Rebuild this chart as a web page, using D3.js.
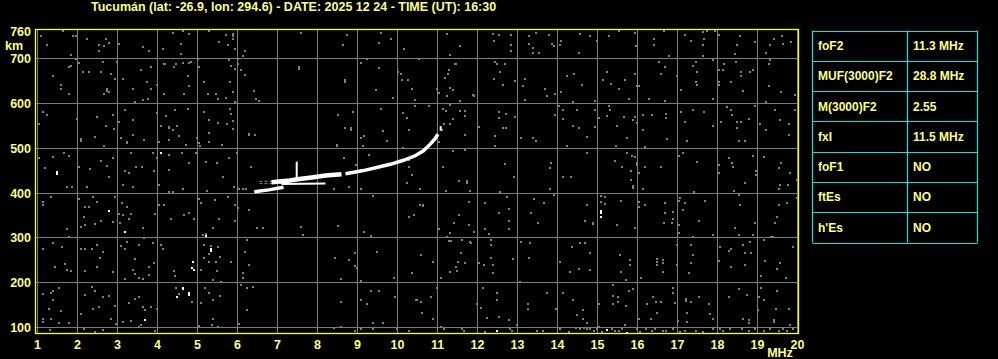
<!DOCTYPE html>
<html>
<head>
<meta charset="utf-8">
<script src="https://cdn.jsdelivr.net/npm/d3@7"></script>
<style>
  html, body { margin: 0; padding: 0; background: #000; }
  svg { display: block; }
</style>
</head>
<body>
<svg id="iono" width="998" height="359"></svg>
<script>
// ─── Data ────────────────────────────────────────────────────────────────────
const TITLE = 'Tucumán (lat: -26.9, lon: 294.6) - DATE: 2025 12 24 - TIME (UT): 16:30';

const freqTicks = d3.range(1, 21);                 // MHz
const heightTicks = [100, 200, 300, 400, 500, 600, 700];  // km
const topHeight = 760;

const paramNames  = ['foF2', 'MUF(3000)F2', 'M(3000)F2', 'fxI', 'foF1', 'ftEs', "h'Es"];
const paramValues = ['11.3 MHz', '28.8 MHz', '2.55', '11.5 MHz', 'NO', 'NO', 'NO'];

// F2 echo trace, [MHz, km]
const traceLow  = [[6.42, 403], [6.78, 407], [7.15, 413]];
const traceMid  = [[6.85, 424], [7.3, 428], [7.55, 431], [7.9, 435], [8.2, 439], [8.6, 442]];
const traceMid2 = [[7.1, 420], [8.2, 421]];
const traceHigh = [[8.7, 443], [9.15, 450], [9.48, 457], [9.82, 464], [10.15, 473], [10.44, 483],
                   [10.65, 494], [10.82, 509], [10.94, 521], [11.01, 531]];
const traceSpike = [[7.48, 431], [7.48, 470]];
const traceTop = [[11.08, 539], [11.08, 549]];
const traceGhost = [[[6.55, 426], [7.2, 426]], [[6.55, 421], [7.1, 421]]];

// bright single returns
const brightDots = [[4.08,489],[1.48,446],[1.48,442],[2.78,359],[3.18,314],[5.33,275],[5.33,271],
  [4.89,247],[4.85,232],[4.9,228],[4.63,189],[4.63,185],[4.49,169],[4.79,176],[4.79,172],
  [3.68,117],[5.21,303],[15.08,359],[15.08,355],[15.08,346],[12.48,92],[15.23,94],[15.73,88]];

// grey background noise
const noiseDots = [
  [1.63,762],[1.08,750],[1.23,731],[1.88,750],[1.96,750],[1.83,708],[2.23,744],[2.54,729],[2.53,717],
  [2.67,727],[2.78,735],[2.71,744],[3.03,732],[3.63,725],[3.79,717],[4.13,721],[4.38,757],[4.63,762],
  [4.58,732],[4.58,710],[4.79,755],[5.29,762],[5.53,736],[5.71,753],[5.75,731],[5.88,755],[5.88,744],
  [5.88,750],[5.94,721],[6.13,706],[6.19,717],[7.58,757],[8.63,729],[8.73,753],[9.53,735],[9.58,757],
  [9.83,744],[10.17,721],
  [1.79,681],[1.83,684],[1.38,661],[1.58,642],[1.58,633],[1.78,620],[1.96,699],[2.03,691],[2.13,670],
  [2.28,670],[2.58,670],[2.63,693],[2.83,665],[2.94,655],[2.73,631],[2.73,627],[2.78,625],[2.67,620],
  [2.98,693],[3.13,655],[3.38,633],[3.44,603],[3.58,674],[3.63,607],[3.73,648],[3.77,609],[3.83,680],
  [3.83,633],[3.98,642],[4.15,687],[4.19,687],[4.17,620],[4.42,680],[4.46,687],[4.63,691],[4.67,620],
  [4.75,661],[4.79,639],[4.79,690],[4.83,693],[5.0,699],[5.04,680],[5.17,648],[5.25,620],[5.46,620],
  [5.5,610],[5.71,612],[5.81,648],[5.79,697],[5.84,684],[5.88,625],[5.94,603],[6.0,699],[6.0,687],
  [5.94,676],[6.08,674],[6.18,663],[6.42,627],[6.46,610],[6.53,606],[7.54,676],[7.54,680],[8.68,648],
  [8.68,652],[9.08,691],[9.23,699],[9.46,630],[9.54,678],[9.89,612],[10.0,670],[10.08,665],[10.11,652],
  [10.25,652],[10.36,633],[10.44,607],
  [1.03,553],[1.13,580],[1.23,575],[1.98,565],[2.08,520],[2.08,517],[2.48,570],[2.44,526],[2.67,504],
  [2.71,549],[2.88,573],[2.9,543],[3.03,558],[3.08,523],[3.18,585],[3.23,511],[3.23,513],[3.38,562],
  [3.38,530],[3.67,519],[3.98,579],[4.03,513],[4.09,549],[4.21,571],[4.28,545],[4.29,547],[4.38,540],
  [4.29,519],[4.43,586],[4.48,549],[4.54,528],[4.75,588],[4.71,508],[4.98,523],[5.07,504],[5.04,511],
  [5.17,580],[5.28,562],[5.29,534],[5.29,513],[5.5,556],[5.61,508],[5.73,553],[5.81,588],[5.83,577],
  [5.88,560],[5.88,543],[6.28,532],[6.28,529],[6.43,529],[8.5,575],[8.48,505],[8.48,508],[8.69,545],
  [8.83,545],[8.83,541],[8.88,580],[9.08,523],[9.17,528],[9.13,504],[9.58,588],[9.63,538],[9.73,517],
  [10.13,579],[10.23,568],[10.28,540],[10.44,595],[10.13,500],
  [1.03,478],[1.2,455],[1.38,481],[1.67,489],[1.79,483],[2.03,459],[2.32,453],[2.58,472],[2.73,460],
  [2.78,436],[2.88,478],[3.18,448],[3.29,444],[3.33,489],[3.46,459],[3.61,459],[3.88,489],[3.92,448],
  [3.98,478],[4.29,485],[4.29,451],[4.61,490],[4.78,466],[4.96,489],[5.21,470],[5.48,468],[5.63,436],
  [5.79,478],[5.98,490],[6.33,457],[8.67,478],[8.96,463],[9.29,485],[10.28,474],[10.28,459],[10.36,440],
  [11.23,755],[11.57,727],[11.3,708],[12.38,755],[12.53,753],[12.4,740],[12.83,753],[12.83,731],
  [12.83,717],[13.28,750],[13.28,732],[13.38,724],[13.38,712],[13.47,757],[13.53,712],[13.78,753],
  [13.86,732],[13.9,727],[14.08,740],[14.07,729],[14.57,755],[14.53,712],[14.82,750],[14.98,740],
  [15.28,750],[15.53,762],[15.94,757],[15.97,727],[16.42,744],[16.42,731],[16.67,762],[16.78,705],
  [17.18,753],[17.33,740],[17.63,760],[17.73,762],[17.67,744],[17.63,731],[17.63,705],[17.94,762],
  [18.03,753],[18.48,731],[18.44,710],[18.57,750],[18.94,736],[19.3,731],[19.2,712],[19.61,750],
  [19.63,732],[19.83,736],[19.42,744],[10.53,699],
  [11.44,687],[11.47,687],[11.28,674],[11.25,665],[11.19,657],[11.3,635],[11.38,630],[10.98,633],
  [11.03,624],[11.23,616],[11.57,606],[11.88,618],[11.92,616],[12.44,693],[12.48,687],[12.68,687],
  [12.57,670],[12.42,655],[12.63,642],[12.94,650],[13.19,655],[13.13,639],[13.19,607],[13.69,633],
  [13.73,616],[13.94,620],[14.08,625],[14.23,661],[14.42,665],[14.38,603],[14.62,642],[14.93,606],
  [15.13,652],[15.23,670],[15.34,644],[15.53,633],[15.69,651],[15.78,610],[15.94,665],[15.98,639],
  [16.03,639],[16.28,609],[16.53,693],[16.69,680],[16.58,665],[16.69,605],[16.98,661],[17.08,630],
  [17.38,684],[17.47,693],[17.48,670],[17.47,648],[17.48,640],[17.88,697],[17.88,610],[18.03,675],
  [18.14,675],[18.17,687],[18.03,648],[18.03,640],[18.33,648],[18.46,693],[18.58,670],[18.58,661],
  [18.63,627],[18.82,670],[18.88,675],[19.2,603],[19.28,687],[19.3,697],[19.28,639],[19.58,625],
  [19.94,618],
  [10.78,594],[11.13,588],[11.22,582],[11.32,596],[11.38,565],[11.57,582],[11.68,582],[11.68,571],
  [11.15,553],[11.32,553],[11.12,541],[11.03,513],[11.68,530],[12.03,547],[12.53,580],[12.53,568],
  [12.72,577],[12.93,570],[12.63,544],[12.72,544],[12.44,528],[12.44,504],[13.08,523],[13.38,523],
  [13.47,517],[13.93,575],[14.03,594],[14.13,585],[14.13,565],[14.48,585],[14.38,549],[14.53,545],
  [14.73,526],[14.93,585],[14.93,547],[15.03,568],[15.23,571],[15.28,594],[15.32,585],[15.48,549],
  [15.65,570],[15.73,523],[15.88,562],[15.94,570],[15.98,556],[16.13,573],[16.13,540],[16.36,575],
  [16.7,577],[16.7,568],[16.73,520],[17.08,580],[17.19,558],[17.23,517],[17.38,585],[17.65,580],
  [17.88,549],[18.08,558],[18.23,592],[18.33,586],[18.35,575],[18.48,558],[18.58,558],[18.48,544],
  [18.78,565],[18.53,517],[18.69,517],[18.94,595],[19.07,555],[19.22,540],[19.43,585],[19.57,562],
  [19.78,553],[19.78,530],[19.93,585],[14.23,505],[16.18,502],[15.47,504],
  [11.13,459],[11.38,493],[11.68,495],[12.68,465],[12.9,436],[11.53,427],[11.73,427],[13.83,466],
  [13.82,455],[14.13,435],[14.33,435],[14.73,490],[15.43,472],[15.61,459],[15.73,490],[15.86,483],
  [15.94,481],[15.98,463],[15.98,466],[16.03,445],[15.83,448],[16.18,459],[15.83,430],[16.58,459],
  [17.03,483],[17.13,489],[17.48,470],[18.03,463],[18.03,445],[18.28,478],[18.36,468],[18.38,459],
  [18.88,483],[18.97,450],[18.96,440],[19.15,481],[19.53,455],[19.58,468],[19.8,445],[19.98,430],
  [1.73,413],[1.86,413],[2.23,413],[3.14,418],[3.38,413],[4.03,418],[4.28,402],[4.38,403],[4.63,408],
  [5.23,405],[5.92,413],[6.04,409],[6.13,409],[6.21,409],[8.42,409],[8.78,413],[9.08,408],[10.23,422],
  [1.33,390],[1.13,381],[1.13,373],[2.03,387],[2.38,390],[2.48,381],[2.94,390],[2.19,368],[2.28,368],
  [2.17,346],[2.44,331],[2.58,337],[2.08,325],[2.19,328],[3.11,378],[3.23,368],[3.04,353],[3.13,351],
  [3.33,353],[3.28,342],[3.07,334],[2.88,336],[3.63,323],[3.67,299],[3.94,353],[4.04,373],[4.17,373],
  [4.33,343],[4.67,351],[4.78,355],[4.92,342],[5.03,387],[5.08,378],[5.43,385],[5.75,390],[5.93,373],
  [6.0,366],[6.29,361],[5.53,342],[5.94,338],[5.13,306],[5.21,308],[5.38,321],[6.48,321],[6.63,321],
  [7.58,325],[7.63,306],[8.52,327],[9.17,312],[9.33,303],[9.39,394],[10.28,346],[10.42,351],
  [1.73,320],[1.78,301],[1.13,275],[1.38,288],[1.61,279],[2.08,275],[2.19,275],[2.36,275],[2.48,284],
  [2.63,268],[2.57,256],[3.08,282],[3.19,275],[3.23,291],[3.53,284],[3.44,252],[3.88,288],[3.92,243],
  [4.08,284],[4.14,275],[1.69,241],[1.73,229],[1.83,226],[1.44,234],[2.19,226],[2.48,234],[2.88,223],
  [3.19,208],[3.38,229],[3.44,219],[3.79,234],[3.78,217],[3.64,208],[3.53,211],[4.42,226],[4.44,214],
  [5.17,284],[5.33,281],[5.5,279],[5.28,264],[5.17,254],[5.28,246],[5.46,246],[5.57,258],[5.83,246],
  [5.08,229],[5.48,226],[5.38,206],[5.58,202],[6.13,221],[6.13,211],[6.28,239],[6.23,296],[6.19,269],
  [8.43,256],[8.79,251],[8.94,267],[8.94,238],[8.98,232],[9.48,269],[9.92,211],[10.36,221],[8.58,208],
  [9.08,204],
  [1.13,174],[1.33,178],[1.39,182],[1.38,161],[1.53,189],[1.58,137],[1.29,142],[1.13,120],[1.13,112],
  [1.33,120],[1.53,111],[1.78,111],[2.08,129],[2.19,172],[2.36,191],[2.44,182],[2.38,142],[2.54,146],
  [2.63,169],[2.78,170],[2.94,148],[2.83,120],[2.96,107],[3.28,155],[3.44,163],[3.53,167],[3.64,146],
  [3.69,139],[3.83,146],[3.98,142],[3.13,112],[3.33,114],[3.53,101],[3.58,105],[3.94,92],[4.46,187],
  [4.54,174],[4.86,157],[5.08,155],[5.19,187],[5.28,178],[5.38,161],[5.56,170],[5.38,120],[5.36,105],
  [5.5,102],[5.03,103],[6.03,107],[6.08,194],[6.23,187],[6.39,191],[6.23,139],[8.58,157],[9.08,161],
  [9.23,152],[9.33,182],[9.53,182],[9.94,167],[9.39,109],[9.63,109],[8.42,99],[8.58,101],[8.94,92],
  [9.08,96],[9.38,96],[9.98,96],[10.46,161],[10.28,92],[1.32,94],[2.17,97],[2.44,90],[2.63,94],
  [10.57,409],[11.22,405],[11.73,423],[11.82,405],[12.57,403],[13.82,409],[15.88,416],[15.88,412],
  [16.13,409],[17.42,403],[18.69,423],[19.55,418],[19.53,409],[19.75,418],
  [10.55,373],[10.63,370],[10.63,373],[11.53,351],[11.78,381],[12.19,378],[12.53,355],[12.73,390],
  [12.78,364],[13.42,387],[13.33,355],[13.67,378],[13.5,333],[13.92,396],[11.42,333],[11.78,328],
  [11.92,314],[11.03,320],[11.32,311],[11.23,301],[12.28,308],[12.19,320],[12.78,338],[12.78,320],
  [14.73,373],[14.68,338],[14.88,330],[14.88,334],[15.08,393],[15.18,390],[15.08,381],[15.18,376],
  [15.58,383],[15.48,328],[15.93,323],[16.03,381],[16.03,368],[16.19,373],[16.68,378],[16.68,355],
  [16.9,358],[16.88,343],[16.66,334],[16.86,333],[17.03,383],[17.07,388],[17.18,378],[17.14,361],
  [17.03,328],[17.03,311],[17.38,301],[17.53,338],[17.69,383],[17.88,306],[18.42,405],[18.53,396],
  [18.57,373],[18.44,323],[18.53,306],[18.88,306],[19.53,373],[19.74,378],[19.48,346],[19.45,333],
  [19.34,301],[19.98,388],[18.94,333],
  [11.28,293],[11.34,293],[11.61,296],[11.8,291],[11.83,288],[12.33,296],[12.33,284],[10.58,261],
  [10.88,246],[11.58,266],[11.52,246],[11.68,243],[11.47,234],[11.48,226],[11.32,224],[11.08,211],
  [12.03,243],[12.15,239],[12.38,239],[12.33,256],[12.38,221],[12.88,252],[13.08,291],[13.32,288],
  [13.28,256],[13.07,202],[14.07,246],[14.36,279],[14.57,288],[14.68,288],[14.82,266],[14.82,228],
  [14.53,230],[14.32,224],[15.57,261],[15.82,251],[15.82,239],[15.58,224],[15.72,206],[16.08,211],
  [16.48,252],[16.48,245],[16.48,239],[16.63,250],[16.63,244],[16.63,224],[16.98,284],[17.33,284],
  [17.38,261],[17.33,243],[17.28,221],[16.98,239],[18.05,279],[18.03,249],[18.33,234],[18.28,271],
  [18.33,275],[18.63,284],[18.82,291],[18.69,266],[18.83,267],[18.69,239],[19.15,296],[19.38,301],
  [19.18,249],[19.48,230],[19.55,243],[19.88,279],[19.09,214],[19.7,211],
  [10.48,161],[10.58,157],[10.83,167],[10.61,133],[10.88,118],[10.98,189],[12.13,189],[12.48,176],
  [12.48,161],[12.08,144],[11.98,152],[12.23,122],[12.53,124],[12.78,117],[13.25,152],[13.25,142],
  [13.73,176],[13.97,142],[14.13,176],[14.38,161],[14.63,139],[14.48,127],[14.63,120],[14.73,109],
  [15.03,152],[15.38,194],[15.38,170],[15.52,167],[15.52,157],[15.38,152],[15.72,148],[15.78,182],
  [15.88,185],[16.03,120],[16.23,152],[16.33,120],[16.38,167],[16.47,157],[16.58,157],[16.48,132],
  [16.9,189],[16.88,176],[16.94,155],[17.0,114],[17.22,164],[17.22,160],[17.33,157],[17.23,132],
  [17.23,112],[17.53,167],[17.82,129],[17.88,120],[17.78,152],[18.28,167],[18.53,185],[18.73,172],
  [18.63,120],[18.78,116],[18.78,110],[19.03,167],[19.15,161],[19.01,139],[19.08,189],[19.48,182],
  [19.47,142],[19.78,142],[19.42,117],[19.42,112],[19.8,105],
  [11.08,102],[11.17,97],[11.61,96],[11.65,92],[12.19,90],[12.8,96],[12.86,92],[12.98,105],
  [13.48,92],[13.63,92],[14.07,96],[14.28,90],[14.47,99],[14.57,96],[14.65,99],[14.73,96],[14.82,96],
  [14.9,92],[14.98,96],[15.03,102],[15.11,90],[15.36,96],[15.44,92],[15.53,92],[15.61,96],[15.69,105],
  [15.98,96],[16.05,90],[16.22,96],[16.36,92],[16.44,96],[16.63,92],[16.72,92],[16.88,96],[17.07,90],
  [17.19,92],[17.47,92],[17.63,90],[17.88,97],[18.05,96],[18.13,92],[18.3,97],[18.61,96],[18.78,92],
  [18.94,96],[19.15,92],[19.32,97],[19.53,92],[19.65,96],[19.73,92],[19.88,97]
];

// ─── Layout ──────────────────────────────────────────────────────────────────
const x = d3.scaleLinear().domain([1, 20]).range([37.5, 797.5]);
const y = d3.scaleLinear().domain([100, 700]).range([327.5, 58.5]);
const FRAME_F = [0.95, 20.025];
const FRAME_H = [86.6, 764.7];

const TABLE_X = [812.5, 907.5, 977.5];
const rowBand = d3.scaleBand().domain(paramNames).range([30.5, 242.5]);

const FONT = '"Liberation Sans", Arial, sans-serif';
const LABEL = '#ffff80';
const GRID = '#7a7a7a';
const NOISE = '#808080';
const CYAN = '#10e0e0';

const svg = d3.select('#iono');
svg.append('rect').attr('width', 998).attr('height', 359).attr('fill', '#000');

// ── Title ────────────────────────────────────────────────────────────────────
svg.append('text')
  .attr('x', 91).attr('y', 11)
  .attr('fill', LABEL)
  .style('font', `bold 12.5px ${FONT}`)
  .text(TITLE);

// ── Grid ─────────────────────────────────────────────────────────────────────
const grid = svg.append('g').attr('stroke', GRID).attr('stroke-width', 1)
  .attr('shape-rendering', 'crispEdges');
grid.selectAll('line.v').data(freqTicks).join('line')
  .attr('x1', d => x(d)).attr('x2', d => x(d))
  .attr('y1', y(FRAME_H[0])).attr('y2', y(FRAME_H[1]));
grid.selectAll('line.h').data(heightTicks).join('line')
  .attr('y1', d => y(d)).attr('y2', d => y(d))
  .attr('x1', x(FRAME_F[0])).attr('x2', x(FRAME_F[1]));

// ── Noise and echoes ─────────────────────────────────────────────────────────
svg.append('g').attr('fill', NOISE).attr('shape-rendering', 'crispEdges')
  .selectAll('rect').data(noiseDots).join('rect')
  .attr('x', d => Math.round(x(d[0])) - 1)
  .attr('y', d => Math.round(y(d[1])) - 1)
  .attr('width', 2).attr('height', 2);

const line = d3.line().x(d => x(d[0])).y(d => y(d[1]));

svg.append('g').attr('fill', 'none').attr('stroke', NOISE).attr('stroke-width', 1)
  .attr('stroke-dasharray', '3,2')
  .selectAll('path').data(traceGhost).join('path').attr('d', line);

const trace = svg.append('g').attr('fill', 'none').attr('stroke', '#fff');
trace.append('path').datum(traceLow).attr('d', line).attr('stroke-width', 3.5);
trace.append('path').datum(traceMid).attr('d', line).attr('stroke-width', 4.5);
trace.append('path').datum(traceMid2).attr('d', line).attr('stroke-width', 2);
trace.append('path').datum(traceHigh).attr('d', line).attr('stroke-width', 3.5);
trace.append('path').datum(traceSpike).attr('d', line).attr('stroke-width', 2);
trace.append('path').datum(traceTop).attr('d', line).attr('stroke-width', 2);

svg.append('g').attr('fill', '#fff').attr('shape-rendering', 'crispEdges')
  .selectAll('rect').data(brightDots).join('rect')
  .attr('x', d => Math.round(x(d[0])) - 1)
  .attr('y', d => Math.round(y(d[1])) - 1)
  .attr('width', 2).attr('height', 2);

// ── Frame ────────────────────────────────────────────────────────────────────
svg.append('rect')
  .attr('x', x(FRAME_F[0])).attr('y', y(FRAME_H[1]))
  .attr('width', x(FRAME_F[1]) - x(FRAME_F[0]))
  .attr('height', y(FRAME_H[0]) - y(FRAME_H[1]))
  .attr('fill', 'none').attr('stroke', '#ffff00').attr('stroke-width', 1.3);

// ── Axis labels ──────────────────────────────────────────────────────────────
const labels = svg.append('g').attr('fill', LABEL).style('font', `bold 12.5px ${FONT}`);
labels.selectAll('text.y').data(heightTicks.concat([topHeight])).join('text')
  .attr('x', 31).attr('y', d => y(d)).attr('dy', '0.36em')
  .attr('text-anchor', 'end').text(d => d);
labels.append('text').attr('x', 5).attr('y', 49.5).text('km');

labels.selectAll('text.x').data(freqTicks).join('text')
  .attr('x', d => x(d)).attr('y', 349)
  .attr('text-anchor', 'middle').text(d => d);
labels.append('text').attr('x', 780).attr('y', 356.5)
  .attr('text-anchor', 'middle').text('MHz');

// ── Parameter table ──────────────────────────────────────────────────────────
const table = svg.append('g');
const rowEdges = paramNames.map(d => rowBand(d)).concat([rowBand.range()[1]]);
table.append('g').attr('stroke', CYAN).attr('stroke-width', 1.2)
  .selectAll('line.r').data(rowEdges).join('line')
  .attr('x1', TABLE_X[0]).attr('x2', TABLE_X[2])
  .attr('y1', d => Math.round(d) + 0.5).attr('y2', d => Math.round(d) + 0.5);
table.append('g').attr('stroke', CYAN).attr('stroke-width', 1.2)
  .selectAll('line.c').data(TABLE_X).join('line')
  .attr('x1', d => d).attr('x2', d => d)
  .attr('y1', rowBand.range()[0]).attr('y2', rowBand.range()[1]);

const cells = table.append('g').attr('fill', LABEL).style('font', `bold 12px ${FONT}`);
cells.selectAll('text.n').data(paramNames).join('text')
  .attr('x', 818).attr('y', d => rowBand(d) + rowBand.bandwidth() / 2)
  .attr('dy', '0.36em').text(d => d);
cells.selectAll('text.v').data(paramValues).join('text')
  .attr('x', 913).attr('y', (d, i) => rowBand(paramNames[i]) + rowBand.bandwidth() / 2)
  .attr('dy', '0.36em').text(d => d);
</script>
</body>
</html>
